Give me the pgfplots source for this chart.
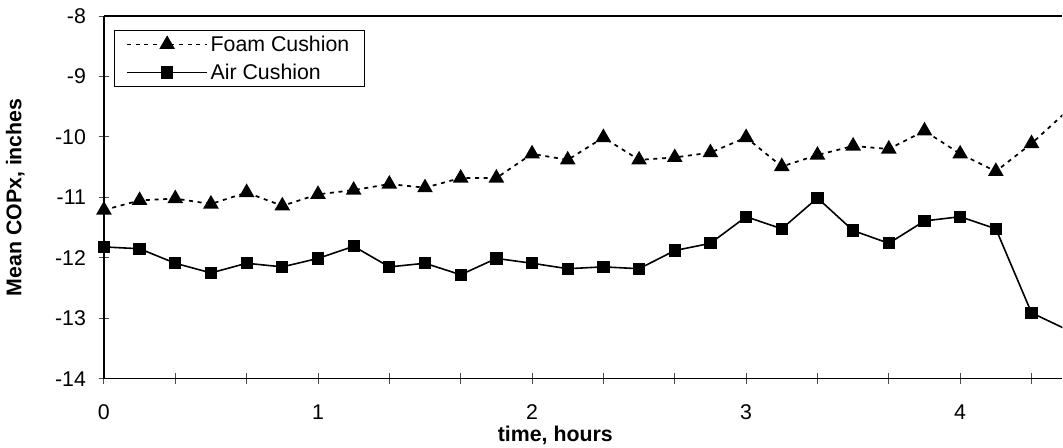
\documentclass[border=0pt]{standalone}
\usepackage{fontspec}
\setmainfont{Liberation Sans}
\usepackage{pgfplots}
\usepackage{pgfplotstable}
\pgfplotsset{compat=1.18}
\usetikzlibrary{calc}

\pgfplotstableread{
t foam air
0.00000 -11.21 -11.82
0.16667 -11.05 -11.85
0.33333 -11.02 -12.09
0.50000 -11.11 -12.25
0.66667 -10.92 -12.09
0.83333 -11.14 -12.15
1.00000 -10.95 -12.01
1.16667 -10.88 -11.81
1.33333 -10.78 -12.15
1.50000 -10.84 -12.09
1.66667 -10.68 -12.28
1.83333 -10.68 -12.01
2.00000 -10.28 -12.09
2.16667 -10.38 -12.18
2.33333 -10.01 -12.15
2.50000 -10.38 -12.18
2.66667 -10.34 -11.88
2.83333 -10.26 -11.76
3.00000 -10.01 -11.32
3.16667 -10.49 -11.52
3.33333 -10.30 -11.01
3.50000 -10.15 -11.55
3.66667 -10.20 -11.76
3.83333 -9.90 -11.39
4.00000 -10.28 -11.32
4.16667 -10.57 -11.52
4.33333 -10.11 -12.91
4.50000 -9.57 -13.19
}\data

\begin{document}
\begin{tikzpicture}
\begin{axis}[
  scale only axis,
  width=719.25pt, height=272.25pt,
  xmin=0, xmax=4.477,
  ymin=-14, ymax=-8,
  axis lines=left,
  axis line style={-, line width=1.1pt, black},
  xtick={0,0.33333,0.66667,1,1.33333,1.66667,2,2.33333,2.66667,3,3.33333,3.66667,4,4.33333},
  xticklabels={0,,,1,,,2,,,3,,,4,},
  ytick={-14,-13,-12,-11,-10,-9,-8},
  tick align=center,
  major tick length=8pt,
  tick style={line width=0.7pt, black!70},
  /pgf/number format/assume math mode=true,
  tick label style={font=\fontsize{16}{19}\selectfont},
  xticklabel style={yshift=-12pt},
  yticklabel style={xshift=-6pt},
  xlabel={time, hours},
  ylabel={Mean COPx, inches},
  label style={font=\fontsize{16}{19}\selectfont\bfseries},
  xlabel style={at={(axis description cs:0.471,0)}, anchor=north, yshift=-34.5pt, inner sep=1pt},
  ylabel style={yshift=16pt},
  legend style={at={(axis description cs:0,1)}, anchor=north west,
    xshift=7.5pt, yshift=-10.5pt, draw=black, line width=0.6pt,
    font=\fontsize{16}{19}\selectfont, inner xsep=9pt, inner ysep=2pt,
    row sep=4pt,
    legend cell align=left},
  legend image code/.code={
    \draw[mark repeat=2,mark phase=2] plot coordinates {(0pt,0pt) (30pt,0pt) (60pt,0pt)};
  },
]
\addplot[black, line width=1.3pt, dash pattern=on 3pt off 3.5pt,
  mark=triangle*, mark size=5.5pt, mark options={solid}]
  table[x=t, y=foam] {\data};
\addlegendentry{Foam Cushion}
\addplot[black, line width=1.2pt,
  mark=square*, mark size=4pt, mark options={solid}]
  table[x=t, y=air] {\data};
\addlegendentry{Air Cushion}
\end{axis}
\draw[line width=1.1pt] (current axis.north west) -- (current axis.north east);
\path ($(current axis.south west)+(-78pt,-51.75pt)$) rectangle ($(current axis.north east)+(0pt,12pt)$);
\end{tikzpicture}
\end{document}
